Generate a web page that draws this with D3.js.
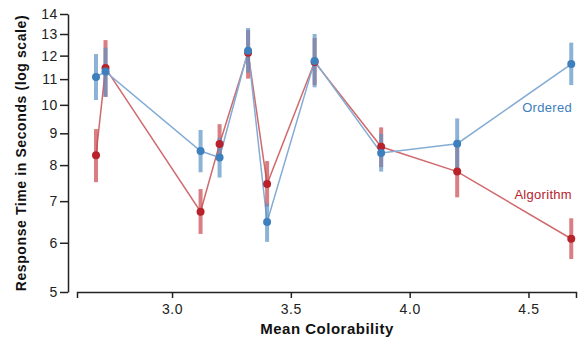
<!DOCTYPE html>
<html lang="en">
<head>
    <meta charset="UTF-8">
    <title>Response Time vs Mean Colorability</title>
    <script src="https://cdnjs.cloudflare.com/ajax/libs/d3/7.8.5/d3.min.js"></script>
    <style>
        body { margin: 0; background: #fff; }
        svg { display: block; font-family: "Liberation Sans", Arial, sans-serif; }
        .axis path, .axis line { stroke: #222; stroke-width: 1.5px; }
        .axis text { font-size: 14px; fill: #222; letter-spacing: 0.6px; }
        .title { font-size: 14px; font-weight: bold; fill: #111; }
    </style>
</head>
<body>
    <svg width="578" height="340"></svg>
    <script>
        // mean colorability of each palette group
        const colorability = [2.68, 2.72, 3.12, 3.20, 3.32, 3.40, 3.60, 3.88, 4.20, 4.68];

        // Ordered condition: mean, low, high (seconds)
        const orderedMean = [11.09, 11.31, 8.43, 8.23, 12.22, 6.48, 11.76, 8.37, 8.66, 11.63];
        const orderedLow  = [10.18, 10.30, 7.79, 7.64, 11.27, 6.02, 10.67, 7.81, 7.91, 10.76];
        const orderedHigh = [12.07, 12.36, 9.11, 8.85, 13.29, 6.94, 13.00, 8.98, 9.51, 12.59];

        // Algorithm condition
        const algoMean = [8.30, 11.46, 6.73, 8.65, 12.13, 7.46, 11.72, 8.56, 7.81, 6.09];
        const algoLow  = [7.51, 10.30, 6.20, 8.21, 11.02, 6.86, 10.76, 7.94, 7.10, 5.65];
        const algoHigh = [9.14, 12.71, 7.32, 9.31, 13.20, 8.12, 12.81, 9.20, 8.55, 6.57];

        const yTicks = [5, 6, 7, 8, 9, 10, 11, 12, 13, 14];
        const xTicks = [3.0, 3.5, 4.0, 4.5];

        const series = [
            { name: "Algorithm", mean: algoMean, low: algoLow, high: algoHigh,
              dot: "#b7222b", bar: "#c9474d", line: "#d06a6e", labelY: 199 },
            { name: "Ordered", mean: orderedMean, low: orderedLow, high: orderedHigh,
              dot: "#3d80bd", bar: "#5b93c4", line: "#84acd4", labelY: 112 }
        ];

        const svg = d3.select("svg");

        const x = d3.scaleLinear().domain([2.6, 4.7]).range([77, 576]);
        const y = d3.scaleLog().domain([5, 14]).range([292, 14]);

        // axes
        svg.append("g")
            .attr("class", "axis")
            .attr("transform", "translate(0,292)")
            .call(d3.axisBottom(x).tickValues(xTicks).tickFormat(d3.format(".1f")).tickSize(6).tickPadding(6));

        svg.append("g")
            .attr("class", "axis")
            .attr("transform", "translate(68,0)")
            .call(d3.axisLeft(y).tickValues(yTicks).tickFormat(d3.format("d")).tickSize(8).tickSizeOuter(0).tickPadding(2));

        svg.append("text")
            .attr("class", "title")
            .attr("x", 327).attr("y", 334)
            .attr("text-anchor", "middle")
            .style("font-size", "15px")
            .style("letter-spacing", "0.5px")
            .text("Mean Colorability");

        svg.append("text")
            .attr("class", "title")
            .attr("transform", "translate(26,153) rotate(-90)")
            .attr("text-anchor", "middle")
            .style("letter-spacing", "0.6px")
            .text("Response Time in Seconds (log scale)");

        const line = d3.line()
            .x(d => x(d[0]))
            .y(d => y(d[1]));

        // lines first
        series.forEach(s => {
            const pts = colorability.map((c, i) => [c, s.mean[i]]);
            svg.append("path")
                .attr("d", line(pts))
                .attr("fill", "none")
                .attr("stroke", s.line)
                .attr("stroke-width", 1.5);
        });

        // error bars
        series.forEach(s => {
            svg.append("g")
                .selectAll("line")
                .data(colorability)
                .join("line")
                .attr("x1", d => x(d)).attr("x2", d => x(d))
                .attr("y1", (d, i) => y(s.low[i]))
                .attr("y2", (d, i) => y(s.high[i]))
                .attr("stroke", s.bar)
                .attr("stroke-opacity", 0.7)
                .attr("stroke-width", 4);
        });

        // points
        series.forEach(s => {
            svg.append("g")
                .selectAll("circle")
                .data(colorability)
                .join("circle")
                .attr("cx", d => x(d))
                .attr("cy", (d, i) => y(s.mean[i]))
                .attr("r", 4)
                .attr("fill", s.dot);
        });

        // series labels
        series.forEach(s => {
            svg.append("text")
                .attr("x", 572).attr("y", s.labelY)
                .attr("text-anchor", "end")
                .attr("font-size", 13)
                .style("letter-spacing", "0.3px")
                .attr("fill", s.dot)
                .text(s.name);
        });
    </script>
</body>
</html>
